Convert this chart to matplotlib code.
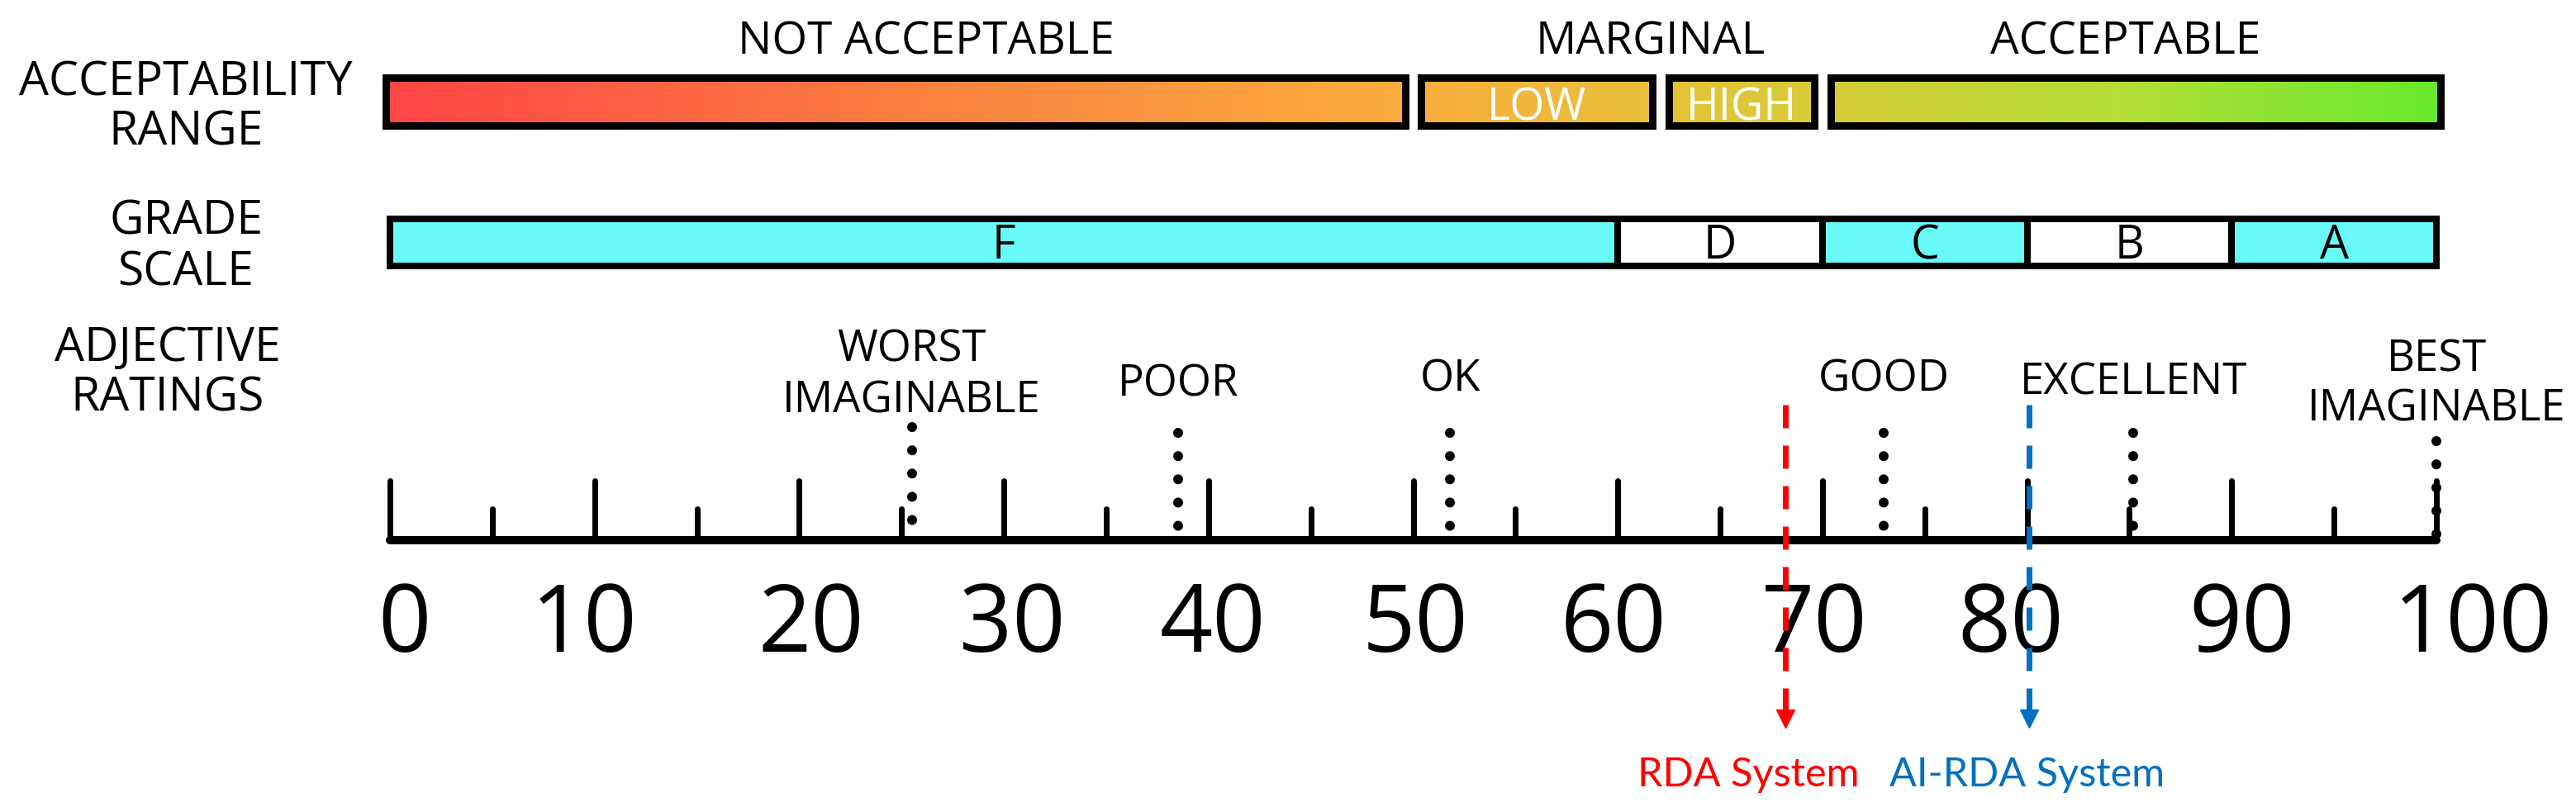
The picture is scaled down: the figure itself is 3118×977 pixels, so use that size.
import numpy as np
import matplotlib.pyplot as plt
from matplotlib.colors import LinearSegmentedColormap
from matplotlib.patches import Rectangle

plt.rcParams['font.family'] = ['Open Sans', 'DejaVu Sans']

# Datos de la escala SUS
range_names = ['NOT ACCEPTABLE', 'MARGINAL', 'ACCEPTABLE']
range_name_x = [26.2, 61.6, 84.8]
accept_edges = [0, 50, 62.1, 70, 100]
accept_labels = ['', 'LOW', 'HIGH', '']

grades = ['F', 'D', 'C', 'B', 'A']
grade_edges = [0, 60, 70, 80, 90, 100]
grade_colors = ['#69FAF8', 'white', '#69FAF8', 'white', '#69FAF8']

adjectives = ['WORST\nIMAGINABLE', 'POOR', 'OK', 'GOOD', 'EXCELLENT', 'BEST\nIMAGINABLE']
adjective_x = [25.5, 38.5, 51.8, 73.0, 85.2, 100]

major_ticks = list(range(0, 101, 10))
minor_ticks = list(range(5, 100, 10))
tick_labels = [str(t) for t in major_ticks]

systems = ['RDA System', 'AI-RDA System']
sus_scores = [68.2, 80.1]
system_colors = ['#FF0000', '#0070C0']

row_labels = ['ACCEPTABILITY\nRANGE', 'GRADE\nSCALE', 'ADJECTIVE\nRATINGS']

# Layout: x en unidades de puntaje, y en pixeles desde arriba
W, H = 3118, 978
PX = 24.77   # pixeles por unidad
X0 = 472     # pixel del 0
PT = 0.72    # px -> pt con dpi 100

fig = plt.figure(figsize=(W / 100, H / 100), dpi=100)
ax = fig.add_axes([0, 0, 1, 1])
ax.axis('off')

# Barra de aceptabilidad con degradado
cmap = LinearSegmentedColormap.from_list('acc', [
    (0.0, '#FF4646'), (0.25, '#FB7F40'), (0.5, '#FAAE3E'), (0.62, '#E8C23A'),
    (0.7, '#D6CC36'), (0.85, '#B4DF38'), (1.0, '#68EA2C')])
a_top, a_bot = 94.5, 152.5
for i in range(len(accept_edges) - 1):
    lo, hi = accept_edges[i], accept_edges[i + 1]
    x0 = lo + 0.4 if lo > 0 else lo - 0.2
    x1 = hi - 0.4 if hi < 100 else hi + 0.2
    grad = np.linspace(x0, x1, 300)[None, :] / 100
    ax.imshow(grad, cmap=cmap, vmin=0, vmax=1, extent=(x0, x1, a_bot, a_top),
              aspect='auto', interpolation='bilinear', zorder=1)
    ax.add_patch(Rectangle((x0, a_top), x1 - x0, a_bot - a_top, fill=False,
                           ec='black', lw=9 * PT, zorder=2))
    if accept_labels[i]:
        ax.text((lo + hi) / 2, 145, accept_labels[i], color='white',
                ha='center', va='baseline', fontsize=39, zorder=3)

for name, x in zip(range_names, range_name_x):
    ax.text(x, 65, name, ha='center', va='baseline', fontsize=39.5)

# Escala de notas
g_top, g_bot = 266, 323
for i, g in enumerate(grades):
    lo, hi = grade_edges[i], grade_edges[i + 1]
    ax.add_patch(Rectangle((lo, g_top), hi - lo, g_bot - g_top, fc=grade_colors[i],
                           ec='black', lw=8 * PT, zorder=2))
    ax.text((lo + hi) / 2, 313, g, ha='center', va='baseline', fontsize=40, zorder=3)

# Etiquetas de fila
row_cx = [225, 225, 203]
row_base = [176, 345, 498]
for lab, cx, base in zip(row_labels, row_cx, row_base):
    lines = lab.split('\n')
    for k, ln in enumerate(lines):
        ax.text((cx - X0) / PX, base - (len(lines) - 1 - k) * 61, ln,
                ha='center', va='baseline', fontsize=41)

# Regla
axis_y = 654.5
ax.plot([0, 100], [axis_y, axis_y], color='black', lw=10 * PT,
        solid_capstyle='round', zorder=4)
ax.vlines(major_ticks, 583, axis_y, color='black', lw=7 * PT, capstyle='round', zorder=4)
ax.vlines(minor_ticks, 617, axis_y, color='black', lw=7 * PT, capstyle='round', zorder=4)

label_dx = [0.7, -0.5, 0.6, 0.4, 0.2, 0.1, -0.2, -0.4, -0.8, 0.5, 1.8]
for t, lab, dx in zip(major_ticks, tick_labels, label_dx):
    ax.text(t + dx, 789, lab, ha='center', va='baseline', fontsize=81, zorder=3)

# Adjetivos con lineas punteadas
adj_base = [499, 480, 474, 474, 477, 510]
adj_top = [518, 525, 525, 525, 525, 535]
for lab, x, base, top in zip(adjectives, adjective_x, adj_base, adj_top):
    ax.plot([x, x], [top, axis_y - 3], color='black', lw=12 * PT,
            linestyle=(0, (0.01, 28 / 12)), dash_capstyle='round', zorder=5)
    lines = lab.split('\n')
    for k, ln in enumerate(lines):
        ax.text(x, base - (len(lines) - 1 - k) * 61, ln,
                ha='center', va='baseline', fontsize=38)

# Puntajes de los sistemas
sys_dx = [-1.8, -0.1]
for name, s, c, dx in zip(systems, sus_scores, system_colors, sys_dx):
    ax.plot([s, s], [491, 861], color=c, lw=7 * PT, linestyle=(0, (4, 3)),
            dash_capstyle='butt', zorder=6)
    ax.plot([s], [871], marker='v', color=c, markersize=22.5 * PT, zorder=6)
    ax.text(s + dx, 952, name, color=c, ha='center', va='baseline', fontsize=35,
            family=['Lato', 'DejaVu Sans'])

ax.set_xlim(-X0 / PX, (W - X0) / PX)
ax.set_ylim(H, 0)

fig.savefig('out.png', dpi=100, facecolor='white')
